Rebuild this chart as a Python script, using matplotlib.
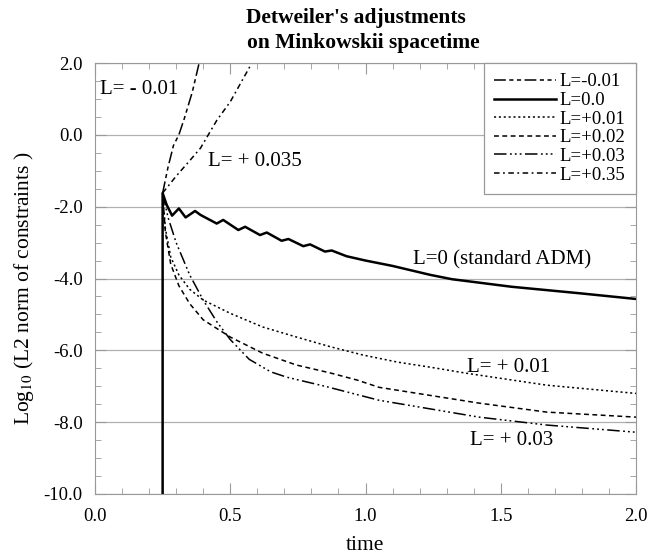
import numpy as np
import matplotlib
matplotlib.use("Agg")
import matplotlib.pyplot as plt
from matplotlib.ticker import MultipleLocator, FormatStrFormatter

plt.rcParams['font.family'] = ['Liberation Serif', 'DejaVu Serif']
plt.rcParams['mathtext.fontset'] = 'stix'
plt.rcParams['lines.scale_dashes'] = False

# L = 0.0 (standard ADM)
t_adm = [0.25, 0.25, 0.265, 0.285, 0.31, 0.335, 0.37, 0.39, 0.45, 0.474, 0.53, 0.555,
         0.61, 0.635, 0.69, 0.715, 0.77, 0.795, 0.85, 0.875, 0.93, 1.0, 1.1, 1.24,
         1.32, 1.54, 1.79, 2.0]
y_adm = [-10.0, -1.62, -1.95, -2.25, -2.05, -2.3, -2.12, -2.23, -2.47, -2.37, -2.65, -2.56,
         -2.79, -2.72, -2.95, -2.9, -3.1, -3.05, -3.25, -3.22, -3.38, -3.5, -3.65, -3.9,
         -4.02, -4.23, -4.41, -4.57]

# L = -0.01
t_m001 = [0.25, 0.27, 0.29, 0.31, 0.33, 0.36, 0.385]
y_m001 = [-1.62, -0.9, -0.3, 0.0, 0.45, 1.2, 2.0]

# L = +0.01
t_p001 = [0.25, 0.26, 0.28, 0.31, 0.35, 0.4, 0.5, 0.62, 0.745, 0.87, 0.99, 1.12, 1.24, 1.375, 1.67, 2.0]
y_p001 = [-1.62, -2.6, -3.4, -3.9, -4.3, -4.6, -4.97, -5.35, -5.63, -5.9, -6.13, -6.33, -6.47, -6.64, -6.97, -7.2]

# L = +0.02
t_p002 = [0.25, 0.26, 0.28, 0.31, 0.35, 0.4, 0.5, 0.62, 0.745, 0.87, 0.97, 1.05, 1.42, 1.67, 2.0]
y_p002 = [-1.62, -2.7, -3.6, -4.2, -4.7, -5.15, -5.63, -6.08, -6.41, -6.63, -6.83, -7.03, -7.47, -7.72, -7.86]

# L = +0.03
t_p003 = [0.25, 0.27, 0.3, 0.35, 0.4, 0.45, 0.5, 0.57, 0.65, 0.71, 0.85, 1.05, 1.42, 1.67, 2.0]
y_p003 = [-1.62, -2.3, -3.0, -3.9, -4.6, -5.2, -5.7, -6.25, -6.6, -6.75, -7.0, -7.39, -7.86, -8.08, -8.28]

# L = +0.035
t_p0035 = [0.25, 0.3, 0.35, 0.39, 0.45, 0.5, 0.58]
y_p0035 = [-1.62, -1.15, -0.72, -0.37, 0.4, 0.92, 2.0]

fig = plt.figure(figsize=(6.47, 5.59), dpi=100)
ax = fig.add_axes([95/647, 1-494/559, 541/647, 431/559])

ax.plot(t_m001, y_m001, color='black', lw=1.1, dashes=(8.5, 2.5, 3, 2.5, 3, 2.5), label='L=-0.01')
ax.plot(t_adm, y_adm, color='black', lw=1.8, label='L=0.0')
ax.plot(t_p001, y_p001, color='black', lw=1.1, dashes=(1.5, 2), label='L=+0.01')
ax.plot(t_p002, y_p002, color='black', lw=1.1, dashes=(3.5, 2.5), label='L=+0.02')
ax.plot(t_p003, y_p003, color='black', lw=1.1, dashes=(9, 2.5, 1.3, 2.2, 1.3, 2.2, 1.3, 2.5), label='L=+0.03')
ax.plot(t_p0035, y_p0035, color='black', lw=1.1, dashes=(4, 2.5, 1.3, 2.5), label='L=+0.35')

ax.set_xlim(0, 2)
ax.set_ylim(-10, 2)
ax.xaxis.set_major_locator(MultipleLocator(0.5))
ax.xaxis.set_minor_locator(MultipleLocator(0.1))
ax.yaxis.set_major_locator(MultipleLocator(2))
ax.yaxis.set_minor_locator(MultipleLocator(0.5))
ax.xaxis.set_major_formatter(FormatStrFormatter('%.1f'))
ax.yaxis.set_major_formatter(FormatStrFormatter('%.1f'))
ax.tick_params(which='both', direction='in', top=True, right=True, color='#999999', labelsize=13.5)
ax.tick_params(which='major', length=8)
ax.tick_params(axis='x', which='major', pad=10)
ax.tick_params(axis='y', which='major', pad=9)
ax.tick_params(which='minor', length=4)
ax.grid(axis='y', which='major', color='#b0b0b0', lw=0.9)
for s in ax.spines.values():
    s.set_color('#999999')

# axis titles placed in figure pixels
fig.text(365/647, 1-546/559, 'time', fontsize=15.5, ha='center', va='center')
fig.text(24/647, 1-288/559, r'Log$_{10}$ (L2 norm of constraints )', fontsize=15.5,
         rotation=90, ha='center', va='center')

fig.text(246/647, 1-18/559, "Detweiler's adjustments", fontsize=15.5, fontweight='bold', va='center')
fig.text(480/647, 1-43/559, "on Minkowskii spacetime", fontsize=15.5, fontweight='bold', va='center', ha='right')

ax.text(0.018, 1.25, 'L= - 0.01', fontsize=15, va='center')
ax.text(0.418, -0.75, 'L= + 0.035', fontsize=15, va='center')
ax.text(1.176, -3.49, 'L=0 (standard ADM)', fontsize=15, va='center')
ax.text(1.375, -6.47, 'L= + 0.01', fontsize=15, va='center')
ax.text(1.386, -8.5, 'L= + 0.03', fontsize=15, va='center')

leg = ax.legend(loc='upper right', fontsize=13.5, handlelength=3.3, handletextpad=0.2,
                labelspacing=0.08, borderaxespad=0, fancybox=False, framealpha=1,
                edgecolor='#999999', borderpad=0.55)
leg.get_frame().set_linewidth(0.9)

fig.savefig('out.png', dpi=100)
